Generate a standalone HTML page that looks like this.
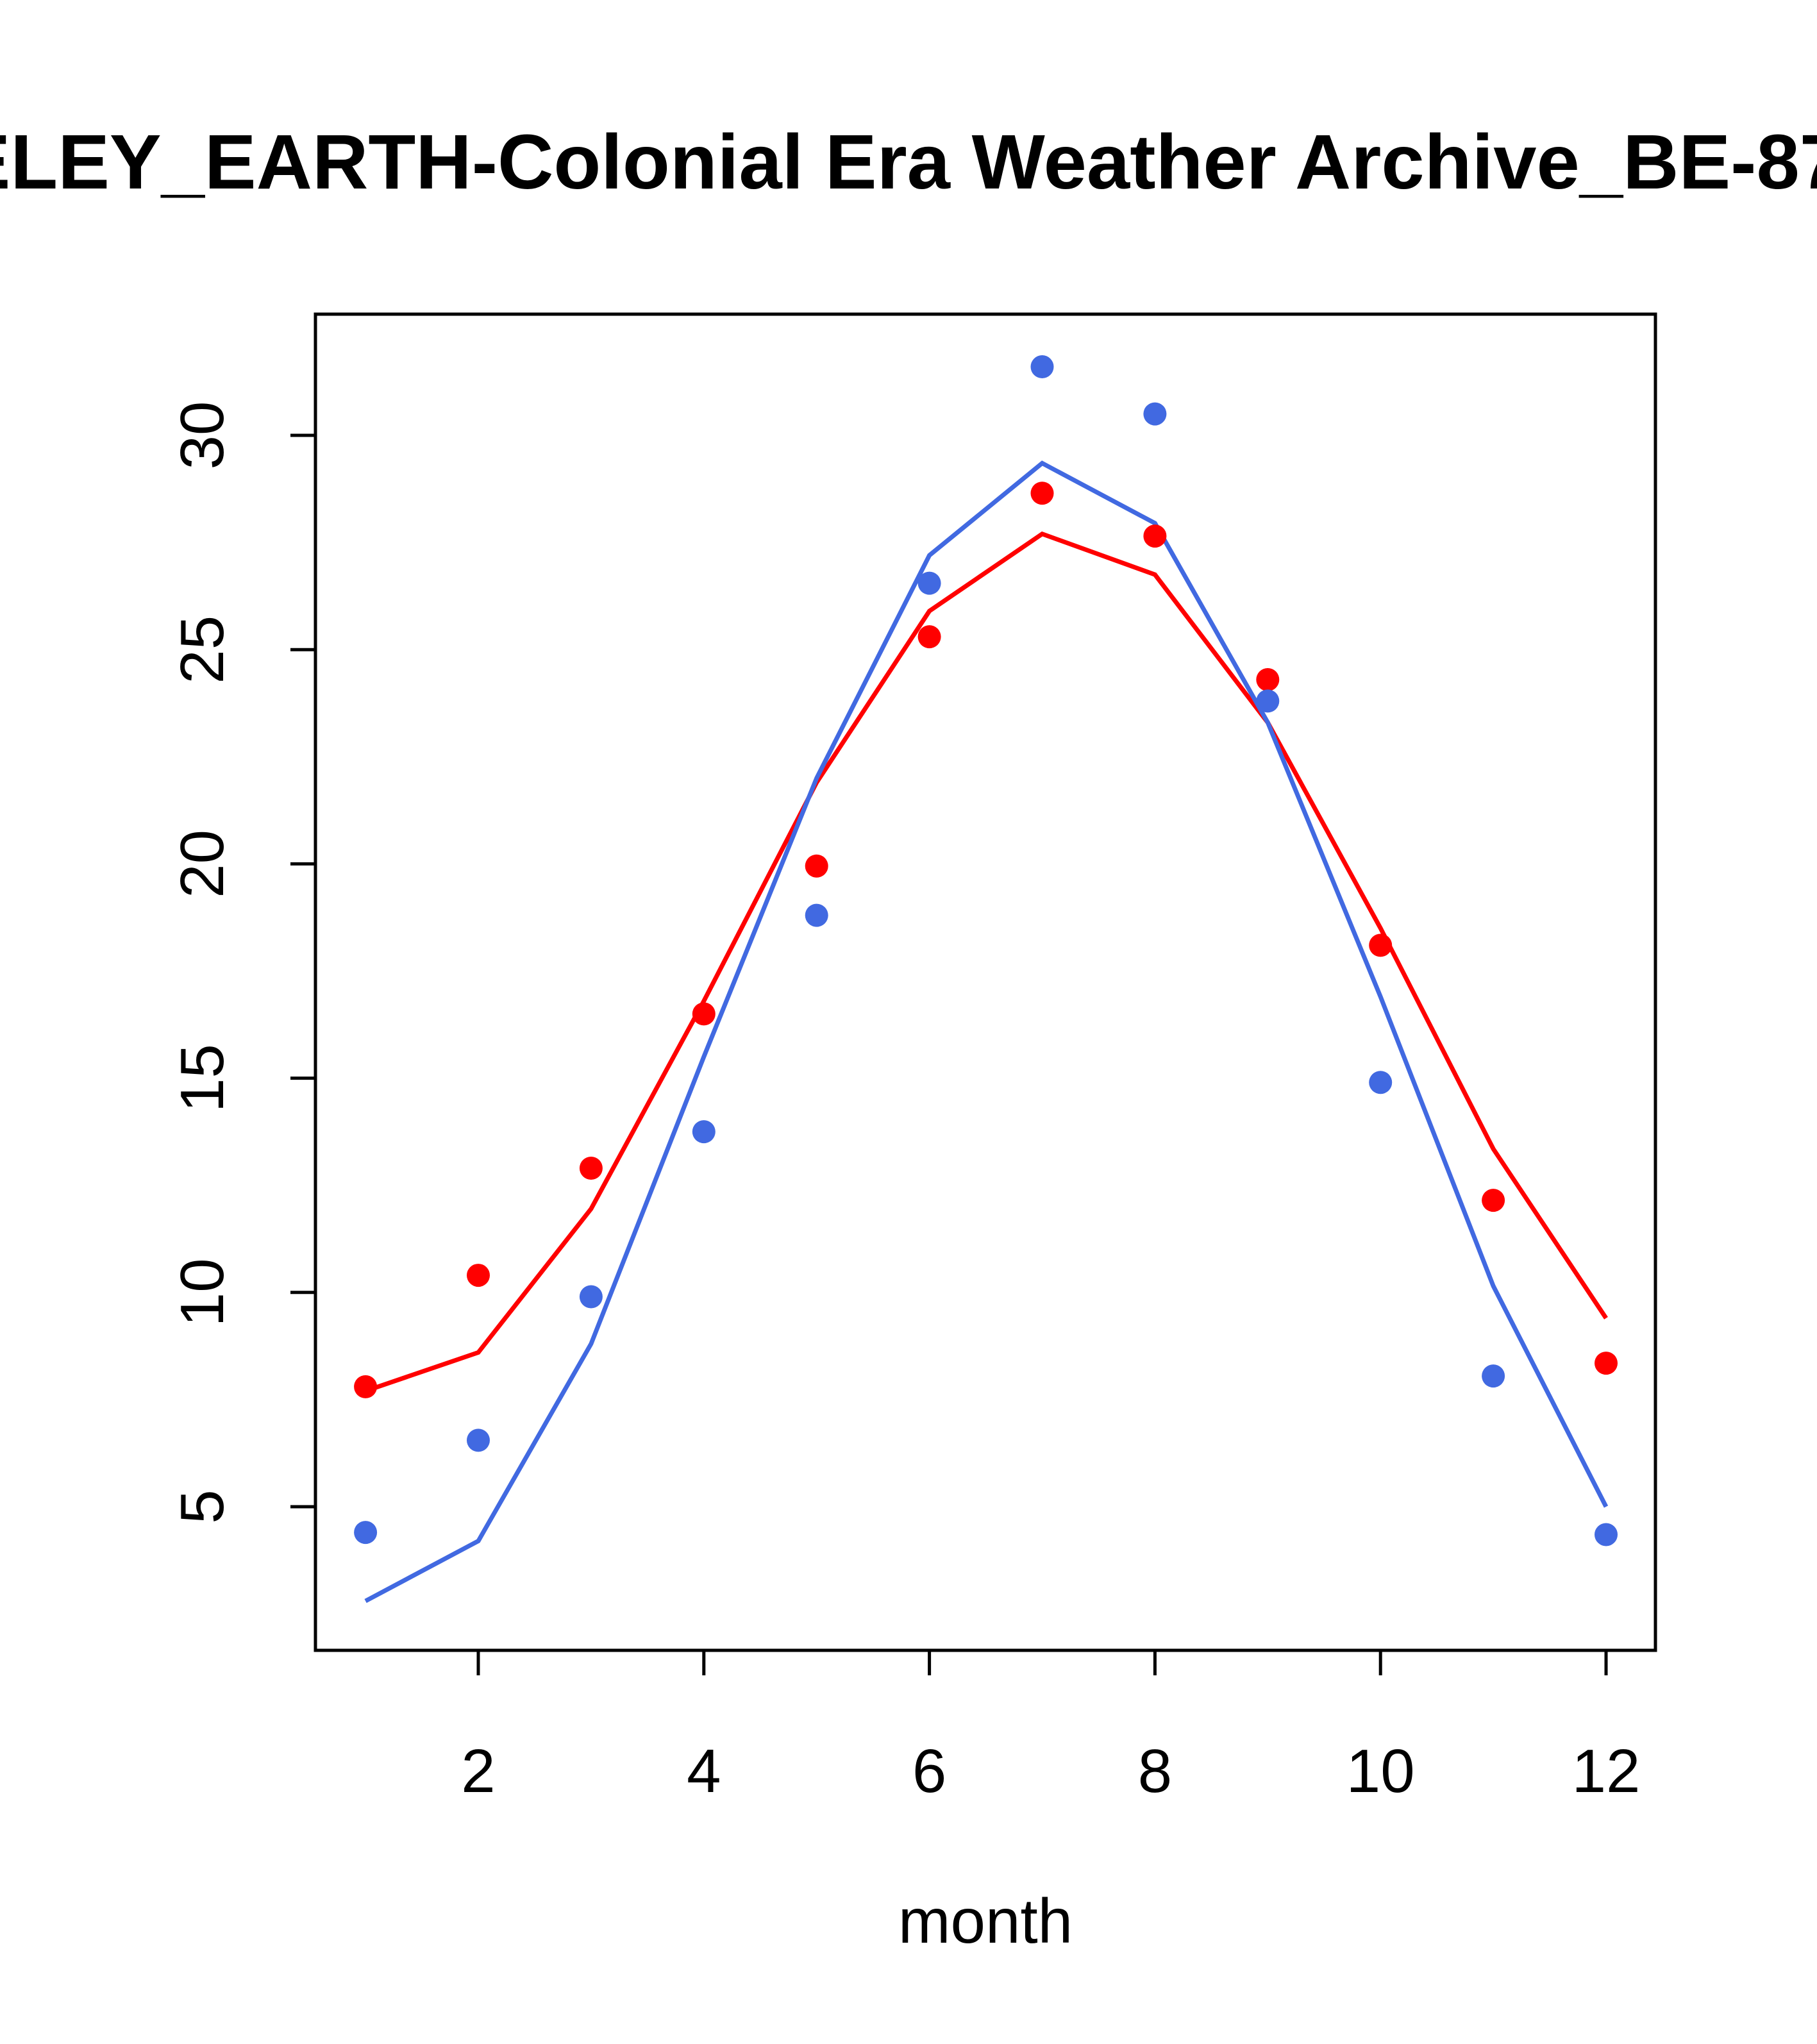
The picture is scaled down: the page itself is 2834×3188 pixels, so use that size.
<!DOCTYPE html>
<html><head><meta charset="utf-8"><style>html,body{margin:0;padding:0;background:#fff;}svg{display:block;}</style></head>
<body>
<svg id="chart" width="2834" height="3188" viewBox="0 0 2834 3188" xmlns="http://www.w3.org/2000/svg" font-family="'Liberation Sans', Arial, sans-serif">
<rect width="2834" height="3188" fill="#fff"/>
<g font-weight="bold" font-size="121">
<text x="776" y="294" text-anchor="end">BERKELEY_EARTH-</text>
<text x="776" y="294" text-anchor="start">Colonial Era Weather Archive_BE-8709</text>
</g>
<rect x="492" y="490" width="2090" height="2084" fill="none" stroke="#000" stroke-width="5"/>
<g id="axes"></g>
<g id="marks"></g>
<text x="1537" y="3030" text-anchor="middle" font-size="98">month</text>
</svg>
<script>
const months = [1,2,3,4,5,6,7,8,9,10,11,12];
const redPoints = [7.8,10.4,12.9,16.5,19.95,25.3,28.65,27.65,24.3,18.1,12.15,8.35];
const redLine = [7.7,8.6,11.95,16.8,21.9,25.9,27.7,26.75,23.3,18.5,13.35,9.4];
const bluePoints = [4.4,6.55,9.9,13.75,18.8,26.55,31.6,30.5,23.8,14.9,8.05,4.35];
const blueLine = [2.8,4.2,8.8,15.5,22.0,27.2,29.35,27.95,23.3,16.9,10.15,5.0];
const xTicks = [2,4,6,8,10,12];
const yTicks = [5,10,15,20,25,30];

const NS = "http://www.w3.org/2000/svg";
function xs(m){ return 746 + (m-2)*175.9; }
function ys(v){ return 2350 - (v-5)*66.84; }
function mk(tag, attrs, parent){
  const e = document.createElementNS(NS, tag);
  for (const k in attrs) e.setAttribute(k, attrs[k]);
  parent.appendChild(e); return e;
}
const axes = document.getElementById('axes');
const marks = document.getElementById('marks');

xTicks.forEach(t => {
  const l = mk('line', {x1:xs(t), x2:xs(t), y1:2574, y2:2613, stroke:'#000', 'stroke-width':5}, axes);
  
  
  const tx = mk('text', {x:xs(t), y:2795, 'text-anchor':'middle', 'font-size':96}, axes);
  tx.textContent = t;
  
  
});
yTicks.forEach(t => {
  const l = mk('line', {x1:453, x2:492, y1:ys(t), y2:ys(t), stroke:'#000', 'stroke-width':5}, axes);
  
  
  const tx = mk('text', {x:0, y:0, 'text-anchor':'middle', 'font-size':96, transform:'translate(348,'+ys(t)+') rotate(-90)'}, axes);
  tx.textContent = t;
  
  
});

function drawLine(vals, color, name){
  const p = mk('polyline', {points: vals.map((v,i)=>xs(months[i])+','+ys(v)).join(' '), fill:'none', stroke:color, 'stroke-width':7}, marks);
  
  
}
function drawPoints(vals, color, name){
  vals.forEach((v,i) => {
    const c = mk('circle', {cx:xs(months[i]), cy:ys(v), r:18, fill:color}, marks);
    
    
  });
}
drawLine(redLine, '#ff0000', 'red-fit-line');
drawLine(blueLine, '#4169e1', 'blue-fit-line');
drawPoints(redPoints, '#ff0000', 'red-point');
drawPoints(bluePoints, '#4169e1', 'blue-point');
</script>
</body></html>
